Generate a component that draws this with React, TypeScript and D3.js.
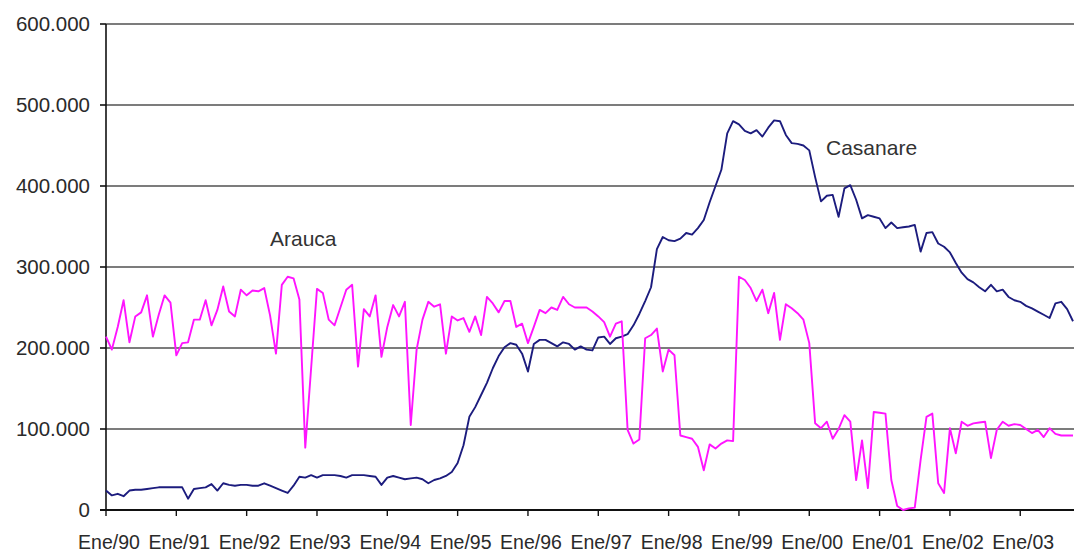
import React from 'react';
import * as d3 from 'd3';

// monthly production, thousands, Ene/90 .. Oct/03
const arauca = [
  214, 198, 226, 259, 207, 239, 244, 265, 214, 241, 265, 256,
  191, 206, 207, 235, 235, 259, 228, 247, 276, 245, 239, 272,
  265, 271, 270, 274, 240, 193, 278, 288, 286, 260, 77, 175,
  273, 268, 235, 228, 250, 272, 278, 177, 248, 239, 265, 189,
  226, 253, 239, 257, 105, 198, 235, 257, 251, 254, 193, 239,
  234, 237, 220, 239, 216, 263, 255, 244, 258, 258, 226, 230,
  206, 226, 247, 243, 250, 247, 263, 254, 250, 250, 250, 245,
  239, 232, 214, 230, 233, 99, 82, 87, 212, 216, 224, 171,
  198, 191, 92, 90, 88, 78, 49, 81, 76, 82, 86, 85,
  288, 284, 274, 258, 272, 243, 268, 210, 254, 249, 243, 235,
  206, 107, 101, 109, 88, 100, 117, 109, 37, 86, 27, 121,
  120, 119, 37, 5, 0, 2, 3, 62, 115, 119, 33, 21,
  101, 70, 109, 104, 107, 108, 109, 64, 99, 109, 104, 106,
  105, 100, 95, 99, 90, 101, 94, 92, 92, 92,
];

const casanare = [
  24, 18, 20, 17, 24, 25, 25, 26, 27, 28, 28, 28,
  28, 28, 14, 26, 27, 28, 32, 24, 33, 31, 30, 31,
  31, 30, 30, 33, 30, 27, 24, 21, 30, 41, 40, 43,
  40, 43, 43, 43, 42, 40, 43, 43, 43, 42, 41, 31,
  40, 42, 40, 38, 39, 40, 38, 33, 37, 39, 42, 47,
  58, 80, 115, 127, 142, 157, 175, 190, 201, 206, 204, 193,
  171, 205, 210, 210, 206, 202, 207, 205, 198, 202, 198, 197,
  213, 214, 205, 212, 214, 217, 228, 242, 258, 275, 322, 337,
  333, 332, 335, 342, 340, 348, 358, 380, 400, 420, 465, 480,
  476, 468, 465, 469, 461, 472, 481, 480, 463, 453, 452, 450,
  444, 411, 381, 388, 389, 362, 397, 401, 383, 360, 364, 362,
  360, 348, 355, 348, 349, 350, 352, 319, 342, 343, 329, 325,
  318, 305, 293, 285, 281, 275, 270, 278, 270, 272, 263, 259,
  257, 252, 249, 245, 241, 237, 255, 257, 248, 233,
];

const yearLabels = [
  'Ene/90', 'Ene/91', 'Ene/92', 'Ene/93', 'Ene/94', 'Ene/95', 'Ene/96',
  'Ene/97', 'Ene/98', 'Ene/99', 'Ene/00', 'Ene/01', 'Ene/02', 'Ene/03',
];

const yTicks = [0, 100, 200, 300, 400, 500, 600];

const W = 1074;
const H = 555;
const font = "Arial, 'Liberation Sans', sans-serif";

const App: React.FC = () => {
  const x = d3.scaleLinear().domain([0, 165]).range([106, 1073]);
  const y = d3.scaleLinear().domain([0, 600]).range([510, 24]);

  const line = d3.line<number>()
    .x((_, i) => x(i))
    .y(d => y(d));

  const fmt = (v: number) => (v === 0 ? '0' : `${v}.000`);

  return (
    <svg width={W} height={H} style={{ position: 'absolute', left: 0, top: 0, background: '#fff' }}>
      {/* gridlines */}
      {yTicks.filter(t => t > 0).map(t => (
        <line key={t} x1={106} x2={W} y1={y(t)} y2={y(t)} stroke="#7c7c7c" strokeWidth={2.2} />
      ))}
      {/* y axis */}
      <line x1={106} x2={106} y1={y(600)} y2={y(0)} stroke="#111" strokeWidth={1.6} />
      {yTicks.map(t => (
        <g key={t}>
          <line x1={100} x2={106} y1={y(t)} y2={y(t)} stroke="#111" strokeWidth={1.6} />
          <text x={90} y={y(t)} dy="0.36em" textAnchor="end" fontFamily={font} fontSize={20.5} fill="#2a2a2a">
            {fmt(t)}
          </text>
        </g>
      ))}
      {/* x axis */}
      <line x1={100} x2={W} y1={y(0)} y2={y(0)} stroke="#111" strokeWidth={1.8} />
      {yearLabels.map((lab, k) => (
        <g key={lab}>
          <line x1={x(k * 12)} x2={x(k * 12)} y1={y(0)} y2={y(0) + 6} stroke="#111" strokeWidth={1.4} />
          <text x={x(k * 12) + 3} y={549} textAnchor="middle" fontFamily={font} fontSize={19.5} fill="#2a2a2a">
            {lab}
          </text>
        </g>
      ))}
      {/* series */}
      <path d={line(casanare) || ''} fill="none" stroke="#1c1c7e" strokeWidth={1.9} strokeLinejoin="round" />
      <path d={line(arauca) || ''} fill="none" stroke="#ff14ff" strokeWidth={1.9} strokeLinejoin="round" />
      {/* labels */}
      <text x={270} y={246} fontFamily={font} fontSize={21} fill="#333">Arauca</text>
      <text x={826} y={155} fontFamily={font} fontSize={21} fill="#333">Casanare</text>
    </svg>
  );
};

export default App;
